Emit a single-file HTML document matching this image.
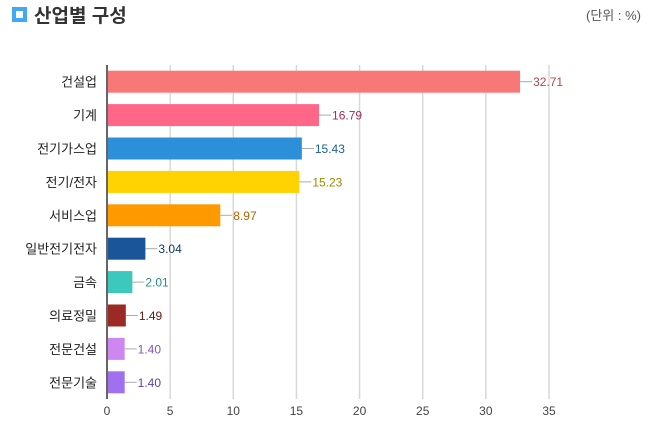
<!DOCTYPE html>
<html><head><meta charset="utf-8"><style>
body{margin:0;background:#fff;width:648px;height:432px;overflow:hidden;font-family:"Liberation Sans","Noto Sans CJK KR",sans-serif}
</style></head><body>
<svg width="648" height="432" xmlns="http://www.w3.org/2000/svg">
<rect x="12" y="7" width="15" height="15" fill="#3fa9f5"/>
<rect x="16" y="11" width="7" height="7" fill="#fff"/>
<text x="34" y="22" font-size="19" font-weight="bold" fill="#333">산업별 구성</text>
<text x="641" y="20" font-size="13" fill="#555" text-anchor="end">(단위 : %)</text>
<g id="grid"></g><g id="bars"></g>
<line x1="107" y1="65" x2="107" y2="399" stroke="#666" stroke-width="2"/>
</svg>
<script>
const categories=["건설업","기계","전기가스업","전기/전자","서비스업","일반전기전자","금속","의료정밀","전문건설","전문기술"];
const values=[32.71,16.79,15.43,15.23,8.97,3.04,2.01,1.49,1.40,1.40];
const colors=["#f87878","#ff6688","#2b90d9","#ffd200","#ff9900","#1a5599","#3cc8bc","#9a2a22","#cc88ee","#a070ee"];
const labelColors=["#b04848","#a0305a","#1a5f99","#a08800","#b06400","#0d3a70","#209088","#601810","#8855aa","#6040a8"];
const ticks=[0,5,10,15,20,25,30,35];
const NS="http://www.w3.org/2000/svg";
const x0=107,xs=442/35,plotTop=65,band=33.4;
const xS=v=>x0+v*xs, yS=i=>plotTop+i*band+band/2;
const gridG=document.getElementById('grid'),barsG=document.getElementById('bars');
function mk(t,a,p){const e=document.createElementNS(NS,t);for(const k in a)e.setAttribute(k,a[k]);p.appendChild(e);return e;}
ticks.forEach(t=>{
 if(t>0){const l=mk('line',{x1:xS(t),x2:xS(t),y1:65,y2:399,stroke:'#d8d8d8','stroke-width':1.5},gridG);
 
 }
 const tx=mk('text',{x:xS(t),y:415,'font-size':12,fill:'#444','text-anchor':'middle'},gridG);tx.textContent=t;
 
 
});
categories.forEach((c,i)=>{
 const y=yS(i);
 const lb=mk('text',{x:97,y:y+5,'font-size':13,fill:'#222','text-anchor':'end'},barsG);lb.textContent=c;
 
 
 const r=mk('rect',{x:x0,y:y-11,width:xS(values[i])-x0,height:22,fill:colors[i]},barsG);
 
 
 const ll=mk('line',{x1:xS(values[i]),x2:xS(values[i])+12,y1:y,y2:y,stroke:'#aaa','stroke-width':1},barsG);
 
 
 const v=mk('text',{x:xS(values[i])+13,y:y+4.5,'font-size':12,fill:labelColors[i]},barsG);v.textContent=values[i].toFixed(2);
 
 
});
</script>
</body></html>
